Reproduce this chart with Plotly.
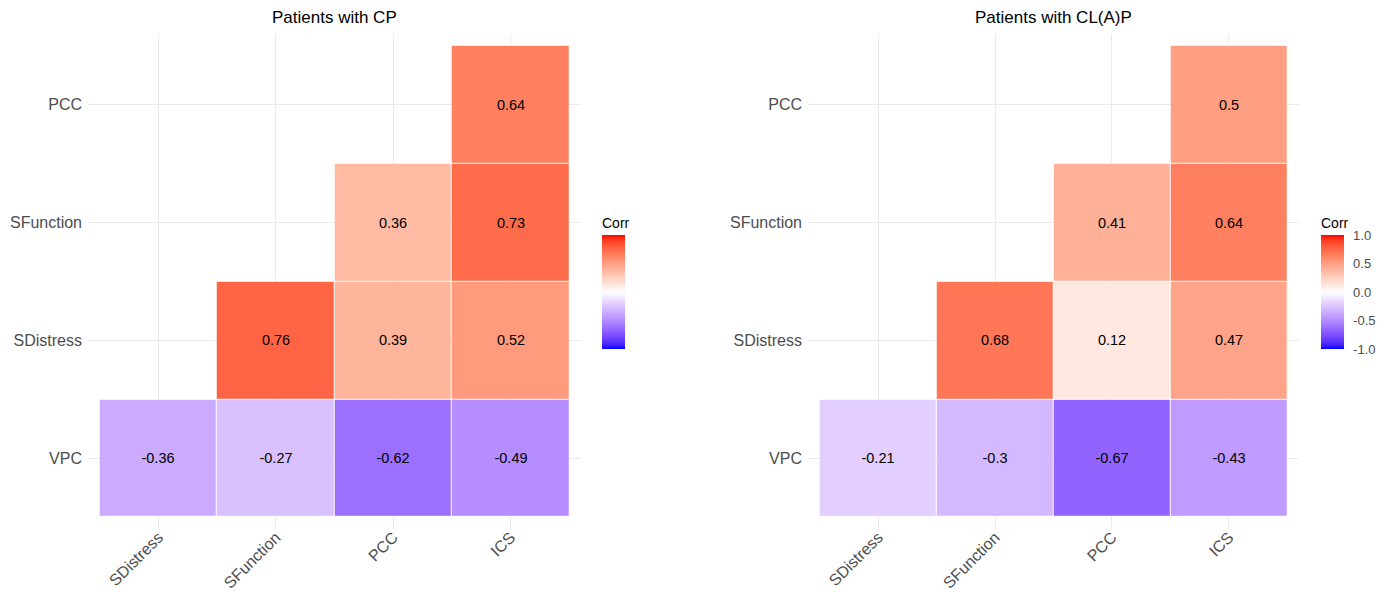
import numpy as np
import plotly.graph_objects as go

# ---- data ----
x_labels = ["SDistress", "SFunction", "PCC", "ICS"]
y_labels = ["VPC", "SDistress", "SFunction", "PCC"]  # bottom to top

cp_vpc = [-0.36, -0.27, -0.62, -0.49]
cp_sdistress = [None, 0.76, 0.39, 0.52]
cp_sfunction = [None, None, 0.36, 0.73]
cp_pcc = [None, None, None, 0.64]

clap_vpc = [-0.21, -0.3, -0.67, -0.43]
clap_sdistress = [None, 0.68, 0.12, 0.47]
clap_sfunction = [None, None, 0.41, 0.64]
clap_pcc = [None, None, None, 0.5]

titles = ["Patients with CP", "Patients with CL(A)P"]
cbar_ticks = [-1.0, -0.5, 0.0, 0.5, 1.0]
cbar_ticklabels = ["-1.0", "-0.5", "0.0", "0.5", "1.0"]

# ---- Lab-interpolated diverging scale (blue - white - red) ----
def srgb_to_lab(rgb):
    c = np.array(rgb) / 255.0
    c = np.where(c <= 0.04045, c / 12.92, ((c + 0.055) / 1.055) ** 2.4)
    M = np.array([[0.4124, 0.3576, 0.1805], [0.2126, 0.7152, 0.0722], [0.0193, 0.1192, 0.9505]])
    xyz = M @ c
    xyz = xyz / np.array([0.95047, 1.0, 1.08883])
    f = np.where(xyz > 0.008856, np.cbrt(xyz), 7.787 * xyz + 16 / 116)
    return np.array([116 * f[1] - 16, 500 * (f[0] - f[1]), 200 * (f[1] - f[2])])

def lab_to_srgb(lab):
    L, a, b = lab
    fy = (L + 16) / 116
    fx = fy + a / 500
    fz = fy - b / 200
    f = np.array([fx, fy, fz])
    xyz = np.where(f ** 3 > 0.008856, f ** 3, (f - 16 / 116) / 7.787)
    xyz = xyz * np.array([0.95047, 1.0, 1.08883])
    Minv = np.array([[3.2406, -1.5372, -0.4986], [-0.9689, 1.8758, 0.0415], [0.0557, -0.2040, 1.0570]])
    c = Minv @ xyz
    c = np.clip(c, 0, 1)
    c = np.where(c <= 0.0031308, 12.92 * c, 1.055 * c ** (1 / 2.4) - 0.055)
    return np.clip(np.round(c * 255), 0, 255).astype(int)

blue = srgb_to_lab([0, 0, 255])
white = srgb_to_lab([255, 255, 255])
red = srgb_to_lab([255, 0, 0])
scale = []
n = 40
for i in range(n + 1):
    t = i / n
    if t <= 0.5:
        s = t / 0.5
        lab = blue + (white - blue) * s
    else:
        s = (t - 0.5) / 0.5
        lab = white + (red - white) * s
    r, g, b = lab_to_srgb(lab)
    scale.append([t, f"rgb({r},{g},{b})"])

def fmt(v):
    return "" if v is None else f"{v:g}"

panels = [
    [cp_vpc, cp_sdistress, cp_sfunction, cp_pcc],
    [clap_vpc, clap_sdistress, clap_sfunction, clap_pcc],
]

FONT = "Liberation Sans, Arial, sans-serif"
W, H = 1384, 592
fig = go.Figure()

x_domains = [[88 / W, 581 / W], [808 / W, 1299 / W]]
y_domain = [(H - 529) / H, (H - 34) / H]
cbar_x = [602 / W, 1321 / W]

for k, z in enumerate(panels):
    xa = "x" if k == 0 else "x2"
    ya = "y" if k == 0 else "y2"
    fig.add_trace(go.Heatmap(
        z=z, x=x_labels, y=y_labels,
        text=[[fmt(v) for v in row] for row in z],
        texttemplate="%{text}",
        textfont=dict(family=FONT, size=14.5, color="black"),
        colorscale=scale, zmin=-1, zmax=1,
        xgap=1, ygap=1,
        xaxis=xa, yaxis=ya,
        hoverongaps=False,
        colorbar=dict(
            title=dict(text="Corr", side="top", font=dict(family=FONT, size=14, color="black")),
            x=cbar_x[k], xanchor="left", xpad=0,
            y=(H - 349) / H, yanchor="bottom", ypad=0,
            lenmode="pixels", len=135, thickness=23, outlinewidth=0,
            tickvals=cbar_ticks, ticktext=cbar_ticklabels,
            showticklabels=(k == 1),
            ticks="outside", ticklen=7, tickcolor="white",
            tickfont=dict(family=FONT, size=13, color="#4D4D4D"),
        ),
    ))

axis_common = dict(
    showgrid=True, gridcolor="#EBEBEB", gridwidth=1, zeroline=False,
    showline=False, ticks="", ticklen=0, automargin=False,
    tickfont=dict(family=FONT, size=16, color="#4D4D4D"),
    type="category", range=[-0.6, 3.6], fixedrange=True,
)

fig.update_layout(
    width=W, height=H,
    margin=dict(l=0, r=0, t=0, b=0, autoexpand=False),
    paper_bgcolor="white", plot_bgcolor="white",
    xaxis=dict(domain=x_domains[0], anchor="y", tickangle=-45, ticklabelstandoff=-5, **axis_common),
    yaxis=dict(domain=y_domain, anchor="x", ticklabelstandoff=5, **axis_common),
    xaxis2=dict(domain=x_domains[1], anchor="y2", tickangle=-45, ticklabelstandoff=-5, **axis_common),
    yaxis2=dict(domain=y_domain, anchor="x2", ticklabelstandoff=5, **axis_common),
    showlegend=False,
)

for k, t in enumerate(titles):
    fig.add_annotation(
        text=t, x=(x_domains[k][0] + x_domains[k][1]) / 2, y=1 - 17 / H,
        xref="paper", yref="paper", showarrow=False,
        xanchor="center", yanchor="middle",
        font=dict(family=FONT, size=17, color="black"),
    )

fig.write_html(
    "out.html",
    config={"displayModeBar": False},
    post_script="document.body.style.margin='0px';document.body.style.overflow='hidden';",
)
